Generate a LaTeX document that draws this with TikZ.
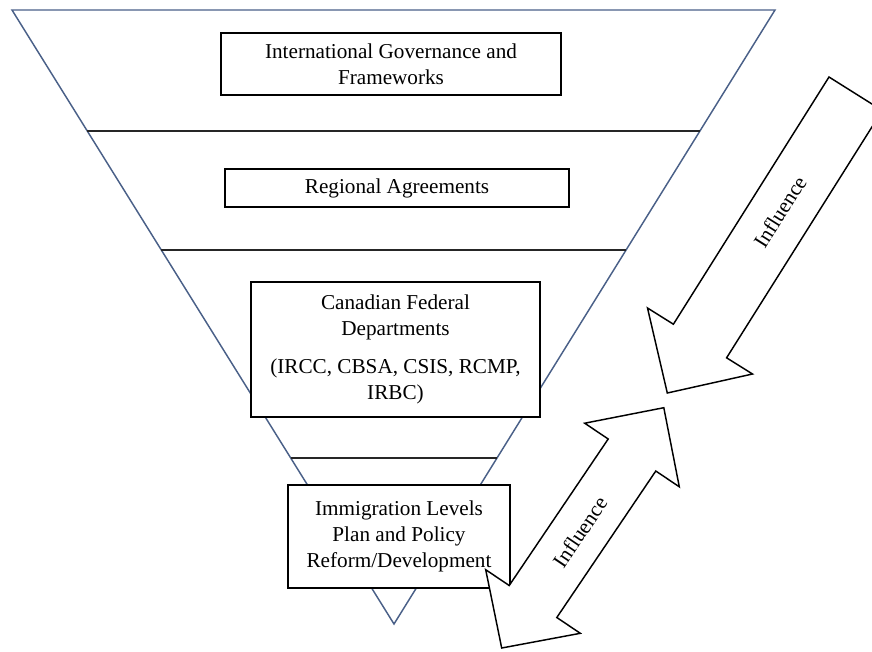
\documentclass[tikz,border=0pt]{standalone}
\usepackage{fontspec}
\setmainfont{Liberation Serif}
\usetikzlibrary{calc}
\definecolor{funnel}{RGB}{74,96,136}
\tikzset{
  tier/.style={draw=black, line width=1pt, fill=white, align=center, inner sep=0pt,
    font=\fontsize{15.9}{19.5}\selectfont},
  divider/.style={draw=black!85, line width=0.9pt},
  funnelline/.style={draw=funnel, line width=1.1pt, line join=miter},
  blockarrow/.style={draw=black, line width=1.1pt, fill=white, line join=miter},
  arrowlabel/.style={font=\fontsize{15.9}{19}\selectfont, inner sep=0pt}
}
\begin{document}
\begin{tikzpicture}[x=0.75pt, y=-0.75pt]
\useasboundingbox (0,0) rectangle (872,651);
\clip (0,0) rectangle (872,651);

% funnel outline
\coordinate (TL) at (12,10);
\coordinate (TR) at (775,10);
\coordinate (AP) at (394,624);
\draw[funnelline] (TL) -- (TR) -- (AP) -- cycle;

% tier dividers
\foreach \f in {0.197,0.391,0.7296}
  \draw[divider] ($(TL)!\f!(AP)$) -- ($(TR)!\f!(AP)$);

% tier boxes
\node[tier, minimum width=255pt, minimum height=46.5pt] (intl) at (391,64)
  {International Governance and\\Frameworks};
\node[tier, minimum width=258pt, minimum height=28.5pt] (reg) at (397,188)
  {Regional Agreements};
\node[tier, minimum width=216.75pt, minimum height=101.25pt] (fed) at (395.5,349.5)
  {Canadian Federal\\Departments\\[9pt](IRCC, CBSA, CSIS, RCMP,\\IRBC)};
\node[tier, minimum width=166.5pt, minimum height=77.25pt] (plan) at (399,536.5)
  {Immigration Levels\\Plan and Policy\\Reform/Development};

% downward influence arrow
\draw[blockarrow] (829,77) -- (882.3,110.5) -- (726.6,357.8) -- (752.5,374)
  -- (667.3,393) -- (647.5,308) -- (673.4,324.2) -- cycle;
\node[arrowlabel, rotate=57.8] (inflA) at (780,212) {Influence};

% two-way influence arrow
\draw[blockarrow] (663.8,407.7) -- (679.3,486.8) -- (655.8,471.0) -- (556.8,617.5)
  -- (580.3,633.3) -- (501.7,648) -- (485.7,569.7) -- (509.2,585.5)
  -- (608.2,439.0) -- (584.7,423.2) -- cycle;
\node[arrowlabel, rotate=56] (inflB) at (580,532) {Influence};
\end{tikzpicture}
\end{document}
